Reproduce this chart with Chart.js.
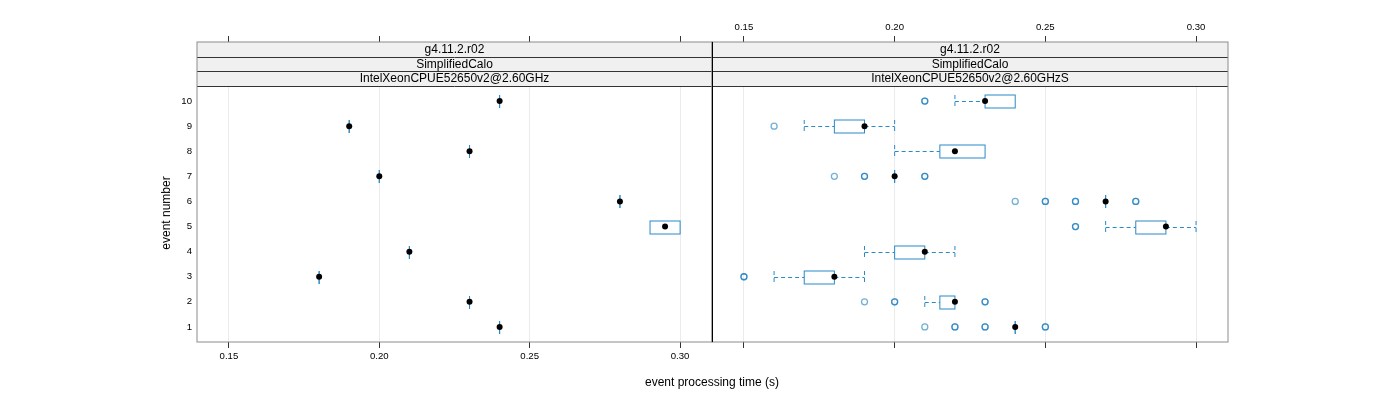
<!DOCTYPE html>
<html>
<head>
<meta charset="utf-8">
<script src="https://cdn.jsdelivr.net/npm/chart.js@4.4.1/dist/chart.umd.min.js"></script>
<style>
  body { margin: 0; background: #fff; font-family: "Liberation Sans", Arial, sans-serif; }
  #wrap { position: relative; width: 1400px; height: 400px; }
  #wrap canvas { position: absolute; left: 0; top: 0; }
  #xtitle { position: absolute; left: 512px; width: 400px; top: 375px; text-align: center; font-size: 12px; color: #000; }
  #ytitle { position: absolute; left: 66px; width: 200px; top: 206px; height: 14px; line-height: 14px;
            text-align: center; font-size: 12px; color: #000; transform: rotate(-90deg); }
</style>
</head>
<body>
<div id="wrap">
  <canvas id="left" width="1400" height="400"></canvas>
  <canvas id="right" width="1400" height="400"></canvas>
  <div id="ytitle">event number</div>
  <div id="xtitle">event processing time (s)</div>
</div>
<script>
// event numbers on the y axis, time ticks on the x axis
const events = [1, 2, 3, 4, 5, 6, 7, 8, 9, 10];
const xTicks = [0.15, 0.20, 0.25, 0.30];

const stripsLeft = ['g4.11.2.r02', 'SimplifiedCalo', 'IntelXeonCPUE52650v2@2.60GHz'];
const stripsRight = ['g4.11.2.r02', 'SimplifiedCalo', 'IntelXeonCPUE52650v2@2.60GHzS'];

// left panel: box stats per event (1..10)
const medLeft = [0.24, 0.23, 0.18, 0.21, 0.295, 0.28, 0.20, 0.23, 0.19, 0.24];
const q1Left  = [0.24, 0.23, 0.18, 0.21, 0.29, 0.28, 0.20, 0.23, 0.19, 0.24];
const q3Left  = [0.24, 0.23, 0.18, 0.21, 0.30, 0.28, 0.20, 0.23, 0.19, 0.24];
const loLeft  = [0.24, 0.23, 0.18, 0.21, 0.29, 0.28, 0.20, 0.23, 0.19, 0.24];
const hiLeft  = [0.24, 0.23, 0.18, 0.21, 0.30, 0.28, 0.20, 0.23, 0.19, 0.24];
const outLeft = [[], [], [], [], [], [], [], [], [], []];

// right panel
const medRight = [0.24, 0.22, 0.18, 0.21, 0.29, 0.27, 0.20, 0.22, 0.19, 0.23];
const q1Right  = [0.24, 0.215, 0.17, 0.20, 0.28, 0.27, 0.20, 0.215, 0.18, 0.23];
const q3Right  = [0.24, 0.22, 0.18, 0.21, 0.29, 0.27, 0.20, 0.23, 0.19, 0.24];
const loRight  = [0.24, 0.21, 0.16, 0.19, 0.27, 0.27, 0.20, 0.20, 0.17, 0.22];
const hiRight  = [0.24, 0.22, 0.19, 0.22, 0.30, 0.27, 0.20, 0.23, 0.20, 0.24];
const outRight = [
  [0.21, 0.22, 0.22, 0.23, 0.23, 0.25, 0.25],
  [0.19, 0.20, 0.20, 0.23, 0.23],
  [0.15, 0.15],
  [],
  [0.26, 0.26],
  [0.24, 0.25, 0.25, 0.26, 0.26, 0.28, 0.28],
  [0.18, 0.19, 0.19, 0.21, 0.21],
  [],
  [0.16],
  [0.21, 0.21]
];

const X_MIN = 0.1394, X_MAX = 0.3106;
const Y_MIN = 0.4, Y_PANEL_MAX = 10.6, Y_MAX = 12.353; // extra room on top holds the strips
const BOX_COL = '#2a8ac8';
const OUT_COL = 'rgba(0,112,184,0.55)';

const bwPlugin = {
  id: 'bw',
  beforeDatasetsDraw(chart, args, o) {
    const ctx = chart.ctx, xs = chart.scales.x, ys = chart.scales.y;
    const h = 6.5;
    ctx.save();
    ctx.strokeStyle = BOX_COL;
    ctx.lineWidth = 1;
    const seg = (x1, y1, x2, y2) => { ctx.beginPath(); ctx.moveTo(x1, y1); ctx.lineTo(x2, y2); ctx.stroke(); };
    events.forEach((ev, i) => {
      const y = Math.round(ys.getPixelForValue(ev)) + 0.5;
      const a = xs.getPixelForValue(o.q1[i]), b = xs.getPixelForValue(o.q3[i]);
      const lo = xs.getPixelForValue(o.lo[i]), hi = xs.getPixelForValue(o.hi[i]);
      ctx.setLineDash([4, 3]);
      if (o.lo[i] < o.q1[i]) { seg(lo, y, a, y); seg(lo, y - h, lo, y + h); }
      if (o.hi[i] > o.q3[i]) { seg(b, y, hi, y); seg(hi, y - h, hi, y + h); }
      ctx.setLineDash([]);
      ctx.strokeRect(a, y - h, b - a, 2 * h);
    });
    ctx.restore();
  }
};

const stripPlugin = {
  id: 'strips',
  afterDraw(chart, args, o) {
    const ctx = chart.ctx, area = chart.chartArea, ys = chart.scales.y;
    const panelTop = ys.getPixelForValue(Y_PANEL_MAX);
    const sh = (panelTop - area.top) / o.labels.length;
    ctx.save();
    ctx.fillStyle = '#f0f0f0';
    ctx.fillRect(area.left, area.top, area.right - area.left, panelTop - area.top);
    o.labels.forEach((t, i) => {
      const y0 = area.top + i * sh;
      ctx.strokeStyle = '#333';
      ctx.lineWidth = 1;
      ctx.beginPath();
      ctx.moveTo(area.left, Math.round(y0 + sh) + 0.5);
      ctx.lineTo(area.right, Math.round(y0 + sh) + 0.5);
      ctx.stroke();
      ctx.fillStyle = '#000';
      ctx.font = '12px "Liberation Sans", Arial, sans-serif';
      ctx.textAlign = 'center';
      ctx.textBaseline = 'middle';
      ctx.fillText(t, (area.left + area.right) / 2, y0 + sh / 2 + 0.5);
    });
    // panel frame
    ctx.strokeStyle = '#8c8c8c';
    ctx.lineWidth = 1;
    ctx.strokeRect(area.left, area.top, area.right - area.left, area.bottom - area.top);
    // divider between the two panels
    const dx = o.side === 'left' ? area.right : area.left;
    ctx.strokeStyle = '#000';
    ctx.beginPath();
    ctx.moveTo(Math.round(dx) + 0.5, area.top);
    ctx.lineTo(Math.round(dx) + 0.5, area.bottom);
    ctx.stroke();
    ctx.restore();
  }
};

function outlierPoints(out) {
  const pts = [];
  out.forEach((vals, i) => vals.forEach(v => pts.push({ x: v, y: events[i] })));
  return pts;
}

function makePanel(id, side, stats, strips) {
  const isLeft = side === 'left';
  const tickFont = { family: '"Liberation Sans", Arial, sans-serif', size: 9.6 };
  const setX = s => { s.ticks = xTicks.map(v => ({ value: v })); };
  return new Chart(document.getElementById(id), {
    type: 'scatter',
    data: {
      datasets: [
        {
          label: 'median',
          data: events.map((e, i) => ({ x: stats.med[i], y: e })),
          pointRadius: 3, pointBackgroundColor: '#000', pointBorderWidth: 0
        },
        {
          label: 'outliers',
          data: outlierPoints(stats.out),
          pointRadius: 3, pointBackgroundColor: 'rgba(0,0,0,0)',
          pointBorderColor: OUT_COL, pointBorderWidth: 1.3
        }
      ]
    },
    options: {
      responsive: false,
      animation: false,
      devicePixelRatio: 1,
      layout: { padding: { left: isLeft ? 159 : 712, right: isLeft ? 688 : 172, top: 10, bottom: 0 } },
      plugins: {
        legend: { display: false },
        tooltip: { enabled: false },
        bw: stats,
        strips: { labels: strips, side: side }
      },
      scales: {
        x: {
          type: 'linear', position: 'bottom', min: X_MIN, max: X_MAX,
          afterBuildTicks: setX,
          afterFit: s => { s.height = 58; },
          grid: { color: '#ebebeb', tickColor: '#333', tickLength: 6 },
          border: { display: false },
          ticks: { display: isLeft, padding: 3, font: tickFont, color: '#000', maxRotation: 0,
                   callback: v => v.toFixed(2) }
        },
        x2: {
          type: 'linear', position: 'top', min: X_MIN, max: X_MAX,
          afterBuildTicks: setX,
          afterFit: s => { s.height = 32; },
          grid: { drawOnChartArea: false, tickColor: '#333', tickLength: 6 },
          border: { display: false },
          ticks: { display: !isLeft, padding: 3, font: tickFont, color: '#000', maxRotation: 0,
                   callback: v => v.toFixed(2) }
        },
        y: {
          type: 'linear', display: isLeft, min: Y_MIN, max: Y_MAX,
          afterBuildTicks: s => { s.ticks = events.map(v => ({ value: v })); },
          afterFit: s => { s.width = isLeft ? 38 : 0; },
          grid: { display: false, drawTicks: false },
          border: { display: false },
          ticks: { padding: 5, font: tickFont, color: '#000' }
        }
      }
    },
    plugins: [bwPlugin, stripPlugin]
  });
}

makePanel('left', 'left',
  { med: medLeft, q1: q1Left, q3: q3Left, lo: loLeft, hi: hiLeft, out: outLeft }, stripsLeft);
makePanel('right', 'right',
  { med: medRight, q1: q1Right, q3: q3Right, lo: loRight, hi: hiRight, out: outRight }, stripsRight);
</script>
</body>
</html>
